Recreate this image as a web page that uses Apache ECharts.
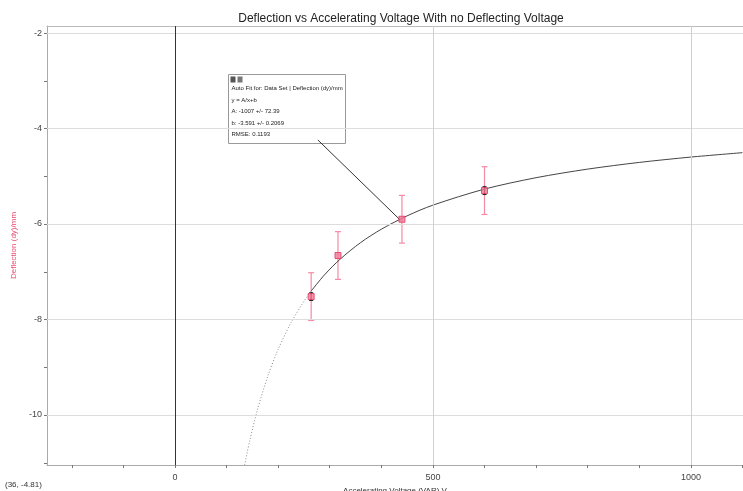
<!DOCTYPE html>
<html>
<head>
<meta charset="utf-8">
<script src="https://cdn.jsdelivr.net/npm/echarts@6/dist/echarts.min.js"></script>
<style>
  html, body { margin: 0; padding: 0; background: #fff; }
  #chart { width: 743px; height: 491px; }
</style>
</head>
<body>
<div id="chart"></div>
<script>
// measured points
const voltage = [264, 316, 440, 600];
const deflection = [-7.52, -6.66, -5.90, -5.30];
const deflErr = [0.5, 0.5, 0.5, 0.5];
const markErr = [0.08, 0, 0, 0.08];

// auto fit curve
const fitDottedX = [135, 145, 160, 180, 200, 225, 250, 264];
const fitDottedY = [-11.05, -10.536, -9.885, -9.185, -8.626, -8.067, -7.619, -7.405];
const fitSolidX = [264, 290, 320, 360, 400, 450, 500, 600, 700, 800, 900, 1000, 1100];
const fitSolidY = [-7.405, -7.063, -6.738, -6.388, -6.109, -5.829, -5.605, -5.269, -5.030, -4.850, -4.710, -4.598, -4.506];

// leader from the fit box to the point it belongs to
const leaderX = [277, 437];
const leaderY = [-4.24, -5.92];

const xLabels = [0, 500, 1000];
const xTicks = [-200, -100, 0, 100, 200, 300, 400, 500, 600, 700, 800, 900, 1000, 1100];
const yLabels = [-2, -4, -6, -8, -10];
const yTicks = [-11, -10, -9, -8, -7, -6, -5, -4, -3, -2];

const fitText = [
  'Auto Fit for: Data Set | Deflection (dy)/mm',
  'y = A/x+b',
  'A: -1007 +/- 72.39',
  'b: -3.591 +/- 0.2069',
  'RMSE: 0.1193'
];

const zip = (xs, ys) => xs.map((x, i) => [x, ys[i]]);

const chart = echarts.init(document.getElementById('chart'));

const errBar = (errs, color, cap) => ({
  type: 'custom',
  silent: true,
  z: 3,
  data: voltage.map((v, i) => [v, deflection[i], errs[i]]),
  renderItem: (params, api) => {
    const e = api.value(2);
    if (!e) return null;
    const top = api.coord([api.value(0), api.value(1) + e]);
    const bot = api.coord([api.value(0), api.value(1) - e]);
    const st = { stroke: color, lineWidth: 1.2 };
    return {
      type: 'group',
      children: [
        { type: 'line', shape: { x1: top[0], y1: top[1], x2: bot[0], y2: bot[1] }, style: st },
        { type: 'line', shape: { x1: top[0] - cap, y1: top[1], x2: top[0] + cap, y2: top[1] }, style: st },
        { type: 'line', shape: { x1: bot[0] - cap, y1: bot[1], x2: bot[0] + cap, y2: bot[1] }, style: st }
      ]
    };
  }
});

const option = {
  animation: false,
  title: {
    text: 'Deflection vs Accelerating Voltage With no Deflecting Voltage',
    left: 396,
    textAlign: 'center',
    top: 8,
    textStyle: { fontFamily: 'Liberation Sans', fontSize: 12, fontWeight: 'normal', color: '#222' }
  },
  grid: {
    left: 47, right: 0, top: 26, bottom: 26,
    outerBoundsMode: 'none'
  },
  xAxis: [{
    type: 'value',
    min: -248,
    max: 1101,
    name: 'Accelerating Voltage (VAR) V',
    nameLocation: 'middle',
    nameGap: 19,
    nameTextStyle: { fontFamily: 'Liberation Sans', fontSize: 8, color: '#333' },
    axisLine: { onZero: false, lineStyle: { color: '#aaa' } },
    axisTick: { customValues: xTicks, length: 3, lineStyle: { color: '#777' } },
    axisLabel: {
      customValues: xLabels, formatter: v => String(v),
      fontFamily: 'Liberation Sans', fontSize: 9, color: '#444', margin: 8
    },
    splitLine: { show: false }
  }, {
    // top frame line only
    type: 'value',
    position: 'top',
    min: -248,
    max: 1101,
    axisLine: { onZero: false, lineStyle: { color: '#bbb' } },
    axisTick: { show: false },
    axisLabel: { show: false },
    splitLine: { show: false }
  }],
  yAxis: {
    type: 'value',
    min: -11.047,
    max: -1.853,
    name: 'Deflection (dy)/mm',
    nameLocation: 'middle',
    nameGap: 27,
    nameTextStyle: { fontFamily: 'Liberation Sans', fontSize: 8, color: '#ea4a70' },
    axisLine: { onZero: false, lineStyle: { color: '#aaa' } },
    axisTick: { customValues: yTicks, length: 3, lineStyle: { color: '#777' } },
    axisLabel: {
      customValues: yLabels, formatter: v => String(v),
      fontFamily: 'Liberation Sans', fontSize: 9, color: '#444', margin: 5
    },
    splitLine: { show: false }
  },
  graphic: [
    {
      type: 'text', left: 5, top: 481,
      style: { text: '(36, -4.81)', font: '8px "Liberation Sans"', fill: '#333' }
    },
    {
      type: 'group', left: 228, top: 74, z: 100,
      children: [
        { type: 'rect', shape: { x: 0, y: 0, width: 117, height: 69 }, style: { fill: '#fff', stroke: '#999', lineWidth: 1 } },
        { type: 'rect', shape: { x: 2, y: 2, width: 5, height: 6 }, style: { fill: '#555' } },
        { type: 'rect', shape: { x: 9, y: 2, width: 5, height: 6 }, style: { fill: '#777' } }
      ].concat(fitText.map((t, i) => ({
        type: 'text', x: 3, y: 11 + i * 11.5,
        style: { text: t, font: '6px "Liberation Sans"', fill: '#222' }
      })))
    }
  ],
  series: [
    {
      type: 'line',
      data: [],
      silent: true,
      markLine: {
        silent: true,
        symbol: 'none',
        label: { show: false },
        data: [
          ...yLabels.map(v => ({ yAxis: v, lineStyle: { color: '#ddd', width: 1, type: 'solid' } })),
          { xAxis: 500, lineStyle: { color: '#d0d0d0', width: 1, type: 'solid' } },
          { xAxis: 1000, lineStyle: { color: '#d0d0d0', width: 1, type: 'solid' } },
          { xAxis: 0, lineStyle: { color: '#333', width: 1, type: 'solid' } }
        ]
      }
    },
    {
      type: 'line',
      data: zip(fitDottedX, fitDottedY),
      smooth: 0.3,
      showSymbol: false,
      silent: true,
      lineStyle: { color: '#888', width: 1, type: [1, 2] }
    },
    {
      type: 'line',
      data: zip(fitSolidX, fitSolidY),
      smooth: 0.3,
      showSymbol: false,
      silent: true,
      lineStyle: { color: '#444', width: 1 }
    },
    {
      type: 'line',
      data: zip(leaderX, leaderY),
      showSymbol: false,
      silent: true,
      lineStyle: { color: '#333', width: 1 }
    },
    errBar(deflErr, '#f58aa4', 3),
    {
      type: 'scatter',
      data: zip(voltage, deflection),
      symbol: 'rect',
      symbolSize: 6,
      z: 4,
      itemStyle: { color: '#f27a96', borderColor: '#e0345e', borderWidth: 1 }
    },
    errBar(markErr, '#222', 2)
  ]
};

chart.setOption(option);
</script>
</body>
</html>
